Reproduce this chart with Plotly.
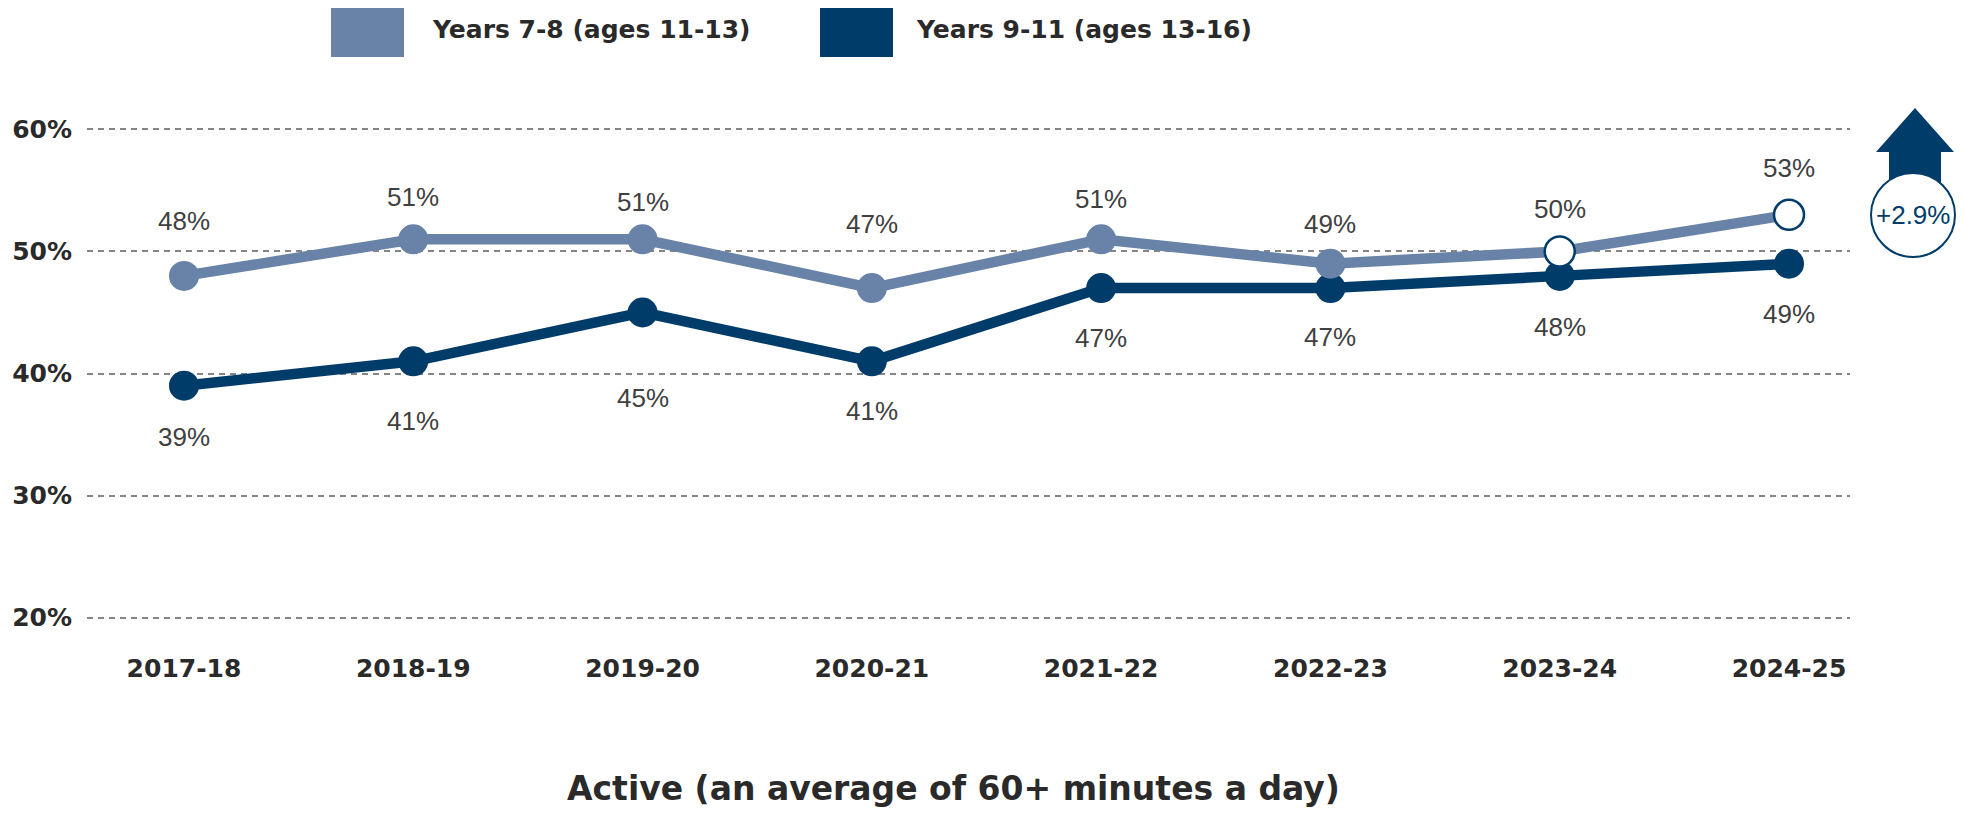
import plotly.graph_objects as go

# data
years = ["2017-18", "2018-19", "2019-20", "2020-21", "2021-22", "2022-23", "2023-24", "2024-25"]
years_7_8 = [48, 51, 51, 47, 51, 49, 50, 53]
years_9_11 = [39, 41, 45, 41, 47, 47, 48, 49]
y_ticks = [20, 30, 40, 50, 60]
y_tick_labels = ["20%", "30%", "40%", "50%", "60%"]
change_label = "+2.9%"

LIGHT = "#6883A7"
DARK = "#003C69"
TEXT = "#2a2a2a"
LABEL = "#404040"

# the page body has an 8px margin, so the figure is drawn 8px in from the window edge
PAD = 8
W, H = 1964 - 2 * PAD, 818 - 2 * PAD
# plot area in window pixels
L, R, T, B = 87, 1850, 127, 620


def px_x(px):
    return (px - L) / (R - L)


def px_y(py):
    return (B - py) / (B - T)


# label offsets (pixels above / below each point)
light_shift = [55, 42, 37, 64, 40, 40, 42, 47]
dark_shift = [-51, -60, -86, -50, -50, -49, -51, -50]

fig = go.Figure()

fig.add_trace(
    go.Scatter(
        x=years,
        y=years_9_11,
        mode="lines+markers",
        name="Years 9-11 (ages 13-16)",
        line=dict(color=DARK, width=10.5),
        marker=dict(size=30, color=DARK),
        cliponaxis=False,
    )
)

fig.add_trace(
    go.Scatter(
        x=years,
        y=years_7_8,
        mode="lines+markers",
        name="Years 7-8 (ages 11-13)",
        line=dict(color=LIGHT, width=10.5),
        marker=dict(size=30, color=LIGHT),
        cliponaxis=False,
    )
)

# latest two years shown as open markers
fig.add_trace(
    go.Scatter(
        x=years[-2:],
        y=years_7_8[-2:],
        mode="markers",
        showlegend=False,
        marker=dict(size=30, color="white", line=dict(color=DARK, width=2.5)),
        cliponaxis=False,
    )
)

annotations = []
for i, yr in enumerate(years):
    annotations.append(dict(
        x=yr, y=years_7_8[i], text=f"{years_7_8[i]}%", showarrow=False,
        yshift=light_shift[i], font=dict(family="Liberation Sans", size=26, color=LABEL),
    ))
    annotations.append(dict(
        x=yr, y=years_9_11[i], text=f"{years_9_11[i]}%", showarrow=False,
        yshift=dark_shift[i], font=dict(family="Liberation Sans", size=26, color=LABEL),
    ))

# legend text
annotations.append(dict(
    xref="paper", yref="paper", x=px_x(430), y=px_y(30), xanchor="left", yanchor="middle",
    text="Years 7-8 (ages 11-13)", showarrow=False,
    font=dict(family="DejaVu Sans", size=25, color=TEXT, weight="bold"),
))
annotations.append(dict(
    xref="paper", yref="paper", x=px_x(914), y=px_y(30), xanchor="left", yanchor="middle",
    text="Years 9-11 (ages 13-16)", showarrow=False,
    font=dict(family="DejaVu Sans", size=25, color=TEXT, weight="bold"),
))

# bottom title
annotations.append(dict(
    xref="paper", yref="paper", x=px_x(953), y=px_y(788), xanchor="center", yanchor="middle",
    text="Active (an average of 60+ minutes a day)", showarrow=False,
    font=dict(family="DejaVu Sans", size=33, color=TEXT, weight="bold"),
))

# change badge text
annotations.append(dict(
    xref="paper", yref="paper", x=px_x(1913), y=px_y(215), xanchor="center", yanchor="middle",
    text=change_label, showarrow=False,
    font=dict(family="Liberation Sans", size=26, color=DARK),
))

arrow = [(1915, 108), (1954, 152), (1941, 152), (1941, 185), (1889, 185), (1889, 152), (1876, 152)]
arrow_path = "M " + " L ".join(f"{px_x(a):.5f},{px_y(b):.5f}" for a, b in arrow) + " Z"

shapes = [
    dict(type="rect", xref="paper", yref="paper",
         x0=px_x(331), x1=px_x(404), y0=px_y(57), y1=px_y(3),
         fillcolor=LIGHT, line=dict(width=0)),
    dict(type="rect", xref="paper", yref="paper",
         x0=px_x(820), x1=px_x(893), y0=px_y(57), y1=px_y(3),
         fillcolor=DARK, line=dict(width=0)),
    dict(type="path", xref="paper", yref="paper", path=arrow_path,
         fillcolor=DARK, line=dict(width=0)),
    dict(type="circle", xref="paper", yref="paper",
         x0=px_x(1871), x1=px_x(1955), y0=px_y(257), y1=px_y(173),
         fillcolor="white", line=dict(color=DARK, width=2)),
]

fig.update_layout(
    width=W,
    height=H,
    margin=dict(l=L - PAD, r=W - (R - PAD), t=T - PAD, b=H - (B - PAD)),
    plot_bgcolor="white",
    paper_bgcolor="white",
    showlegend=False,
    annotations=annotations,
    shapes=shapes,
    xaxis=dict(
        type="category",
        range=[-0.423, 7.266],
        automargin=False,
        showgrid=False,
        zeroline=False,
        showline=False,
        ticks="outside",
        ticklen=26,
        tickcolor="rgba(0,0,0,0)",
        tickfont=dict(family="DejaVu Sans", size=25, color=TEXT, weight="bold"),
    ),
    yaxis=dict(
        range=[19.8, 60.2],
        automargin=False,
        tickvals=y_ticks,
        ticktext=y_tick_labels,
        showgrid=True,
        gridcolor="#858585",
        gridwidth=2,
        griddash="6px,5px",
        zeroline=False,
        showline=False,
        ticks="outside",
        ticklen=9,
        tickcolor="rgba(0,0,0,0)",
        tickfont=dict(family="DejaVu Sans", size=25, color=TEXT, weight="bold"),
    ),
)

fig.write_html("out.html")
